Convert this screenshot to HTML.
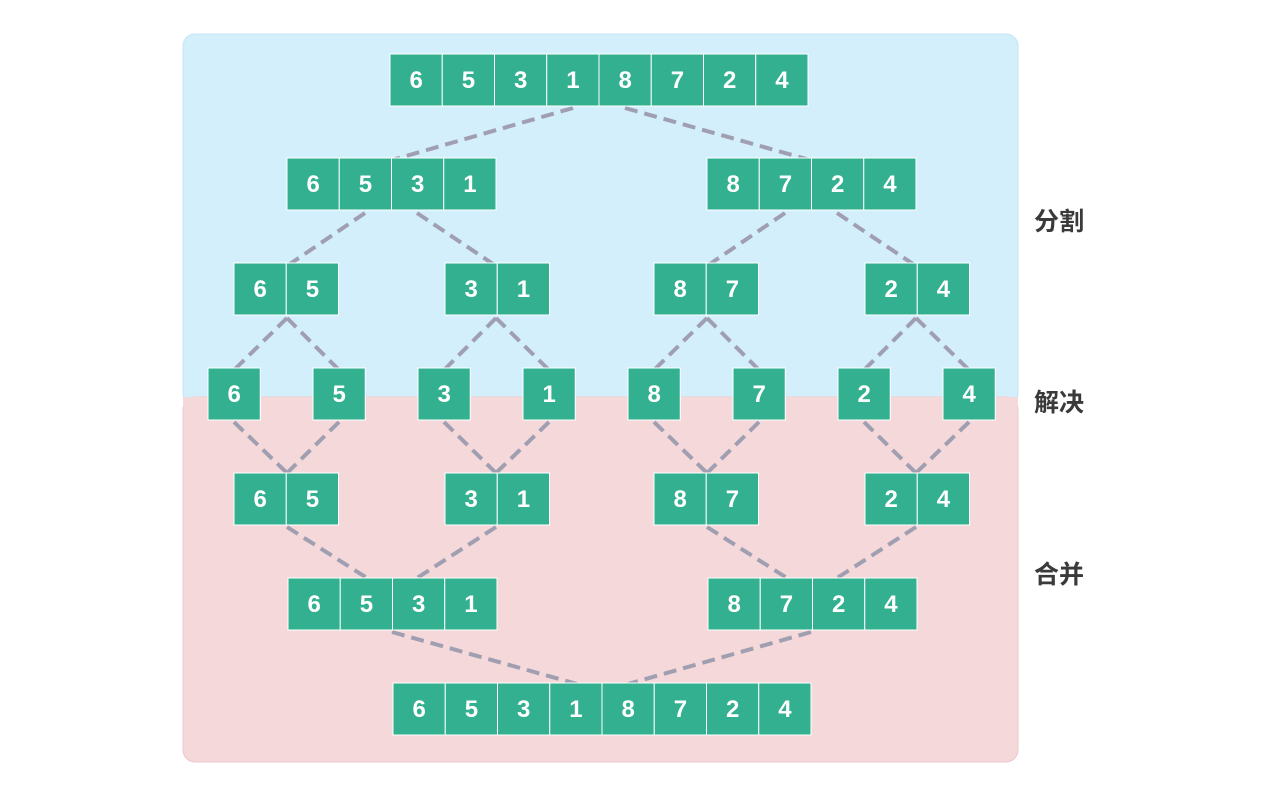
<!DOCTYPE html>
<html><head><meta charset="utf-8"><style>
html,body{margin:0;padding:0;background:#fff;}
#root{position:relative;width:1280px;height:794px;overflow:hidden;font-family:"Liberation Sans","Noto Sans CJK SC",sans-serif;}
.lbl{position:absolute;font-size:25px;font-weight:bold;color:#3a3a3a;}
</style></head><body>
<div id="root">
<svg width="1280" height="794">
<rect x="183" y="34" width="835" height="372" rx="12" fill="#d3effc" stroke="#c6e4f2"/>
<rect x="183" y="397" width="835" height="365" rx="12" fill="#f5d8d9" stroke="#ecc9ca"/>
<rect x="183" y="397" width="835" height="10" fill="#f5d8d9"/>
<g id="lines" stroke="#a09fb2" stroke-width="4" stroke-dasharray="13,7" fill="none"></g>
<g id="boxes"></g>
</svg>
<div class="lbl" style="left:1034px;top:202px">分割</div>
<div class="lbl" style="left:1034px;top:383px">解决</div>
<div class="lbl" style="left:1034px;top:555px">合并</div>
</div>
<script>
const rows=[
 {y:54,groups:[[390,[6,5,3,1,8,7,2,4]]]},
 {y:158,groups:[[287,[6,5,3,1]],[707,[8,7,2,4]]]},
 {y:263,groups:[[234,[6,5]],[445,[3,1]],[654,[8,7]],[865,[2,4]]]},
 {y:368,groups:[[208,[6]],[313,[5]],[418,[3]],[523,[1]],[628,[8]],[733,[7]],[838,[2]],[943,[4]]]},
 {y:473,groups:[[234,[6,5]],[445,[3,1]],[654,[8,7]],[865,[2,4]]]},
 {y:578,groups:[[288,[6,5,3,1]],[708,[8,7,2,4]]]},
 {y:683,groups:[[393,[6,5,3,1,8,7,2,4]]]}
];
const segs=[
 [573,108,392,160],[625,108,810,160],
 [365,213,287,266],[417,213,496,266],[785,213,707,266],[837,213,916,266],
 [287,318,234,370],[287,318,339,370],[496,318,444,370],[496,318,549,370],
 [707,318,654,370],[707,318,759,370],[916,318,864,370],[916,318,969,370],
 [234,422,287,473],[339,422,287,473],[444,422,496,473],[549,422,496,473],
 [654,422,707,473],[759,422,707,473],[864,422,916,473],[969,422,916,473],
 [287,527,367,578],[496,527,417,578],[707,527,787,578],[916,527,837,578],
 [392,632,577,684],[811,632,628,684]
];
const NS="http://www.w3.org/2000/svg";
const lg=document.getElementById('lines');
segs.forEach(s=>{const l=document.createElementNS(NS,'line');
l.setAttribute('x1',s[0]);l.setAttribute('y1',s[1]);l.setAttribute('x2',s[2]);l.setAttribute('y2',s[3]);


lg.appendChild(l);});
const bg=document.getElementById('boxes');
const W=52.25,H=52;
rows.forEach(r=>r.groups.forEach(g=>g[1].forEach((v,i)=>{
 const x=g[0]+i*W;
 const rc=document.createElementNS(NS,'rect');
 rc.setAttribute('x',x);rc.setAttribute('y',r.y);rc.setAttribute('width',W);rc.setAttribute('height',H);
 rc.setAttribute('fill','#32b08f');rc.setAttribute('stroke','#ffffff');rc.setAttribute('stroke-width','1');
 
 
 bg.appendChild(rc);
 const t=document.createElementNS(NS,'text');
 t.setAttribute('x',x+W/2);t.setAttribute('y',r.y+H/2+8);t.setAttribute('text-anchor','middle');
 t.setAttribute('font-size','24');t.setAttribute('font-weight','bold');t.setAttribute('fill','#fff');
 t.setAttribute('font-family','Liberation Sans, sans-serif');
 t.textContent=v;
 
 
 bg.appendChild(t);
})));
</script>
</body></html>
